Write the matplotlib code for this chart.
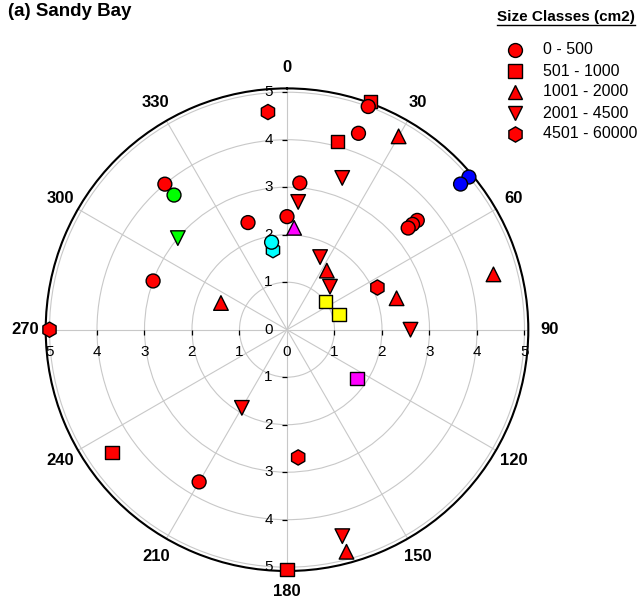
import numpy as np
import matplotlib
matplotlib.use('Agg')
import matplotlib.pyplot as plt
from matplotlib.lines import Line2D
from matplotlib.transforms import offset_copy

plt.rcParams['font.family'] = ['Liberation Sans', 'DejaVu Sans']

# ---------------- data ----------------
title = '(a) Sandy Bay'
legend_title = 'Size Classes (cm2)'
size_classes = ['0 - 500', '501 - 1000', '1001 - 2000', '2001 - 4500', '4501 - 60000']
angle_ticks = [0, 30, 60, 90, 120, 150, 180, 210, 240, 270, 300, 330]
radial_ticks = [1, 2, 3, 4, 5]
r_max = 5.08

# 0 - 500 (circles)
circle_deg = [20, 20, 5, 0, 340, 320, 320, 290, 50, 50, 50, 210, 50, 50, 350]
circle_r = [5.0, 4.4, 3.1, 2.38, 2.4, 4.0, 3.7, 3.0, 3.58, 3.45, 3.33, 3.7, 5.0, 4.77, 1.87]
circle_col = ['red', 'red', 'red', 'red', 'red', 'red', 'lime', 'red', 'red', 'red', 'red', 'red',
              'blue', 'blue', 'cyan']

# 501 - 1000 (squares)
square_deg = [20, 15, 180, 235, 54, 74, 125]
square_r = [5.12, 4.1, 5.05, 4.5, 1.0, 1.14, 1.8]
square_col = ['red', 'red', 'red', 'red', 'yellow', 'yellow', 'magenta']

# 1001 - 2000 (triangles up)
tri_up_deg = [30, 34, 74, 75, 292, 165, 4]
tri_up_r = [4.7, 1.5, 2.4, 4.5, 1.5, 4.84, 2.15]
tri_up_col = ['red', 'red', 'red', 'red', 'red', 'red', 'magenta']

# 2001 - 4500 (triangles down)
tri_dn_deg = [20, 5, 24.5, 45, 90, 210, 165, 310]
tri_dn_r = [3.4, 2.7, 1.68, 1.28, 2.6, 1.9, 4.5, 3.0]
tri_dn_col = ['red', 'red', 'red', 'red', 'red', 'red', 'red', 'lime']

# 4501 - 60000 (hexagons)
hex_deg = [355, 65, 175, 270, 350]
hex_r = [4.6, 2.1, 2.7, 5.0, 1.7]
hex_col = ['red', 'red', 'red', 'red', 'cyan']

# ---------------- figure ----------------
fig = plt.figure(figsize=(6.42, 6.08), dpi=100)
cx, cy = 287.0, 329.7           # centre in pixels (from top-left)
rad_px = r_max * 47.5
ax = fig.add_axes([(cx - rad_px) / 642, (608 - cy - rad_px) / 608,
                   2 * rad_px / 642, 2 * rad_px / 608], projection='polar')
ax.set_theta_zero_location('N')
ax.set_theta_direction(-1)
ax.set_ylim(0, r_max)
ax.set_rgrids(radial_ticks, labels=[''] * len(radial_ticks))
ax.set_thetagrids(angle_ticks, labels=[str(a) for a in angle_ticks])
ax.grid(True, color='#c8c8c8', linewidth=0.8)
ax.spines['polar'].set_linewidth(1.5)
ax.spines['polar'].set_color('black')
ax.tick_params(axis='x', direction='out', length=4.5, width=0.9, color='black',
               labelsize=12, pad=3.5)
for lbl in ax.get_xticklabels():
    lbl.set_fontweight('bold')
ax.tick_params(axis='y', length=0)

# radial labels and dashes
tr_v = offset_copy(ax.transData, fig=fig, x=-18.5, y=0, units='dots')
tr_h = offset_copy(ax.transData, fig=fig, x=0, y=-22, units='dots')
ax.text(0, 0, '0', transform=tr_v, ha='center', va='center', fontsize=11)
ax.text(0, 0, '0', transform=tr_h, ha='center', va='center', fontsize=11)
for th in (0, np.pi):
    for r in radial_ticks:
        ax.text(th, r, str(r), transform=tr_v, ha='center', va='center', fontsize=11)
    ax.plot([th] * len(radial_ticks), radial_ticks, ls='none', marker=0, ms=3.8,
            mew=0.9, color='black', clip_on=False, zorder=2)
for th in (np.pi / 2, 3 * np.pi / 2):
    for r in radial_ticks:
        ax.text(th, r, str(r), transform=tr_h, ha='center', va='center', fontsize=11)
    ax.plot([th] * len(radial_ticks), radial_ticks, ls='none', marker=3, ms=3.8,
            mew=0.9, color='black', clip_on=False, zorder=2)

# data markers
marker_of = ['o', 's', '^', 'v', 'h']
ms_of = [10, 9.6, 10.5, 10.5, 11]
series = [
    (square_deg, square_r, square_col, 1, 3),
    (hex_deg, hex_r, hex_col, 4, 3),
    (circle_deg, circle_r, circle_col, 0, 4),
    (tri_up_deg, tri_up_r, tri_up_col, 2, 5),
    (tri_dn_deg, tri_dn_r, tri_dn_col, 3, 5),
]
for deg, rr, col, k, z in series:
    ax.scatter(np.deg2rad(deg), rr, s=ms_of[k] ** 2, c=col, marker=marker_of[k],
               edgecolors='black', linewidths=1.0, clip_on=False, zorder=z)

# title
fig.text(8 / 642, 1 - 11 / 608, title, fontsize=13.5, fontweight='bold', ha='left', va='center')

# legend
lt = fig.text(497 / 642, 1 - 17 / 608, legend_title, fontsize=11, fontweight='bold',
              ha='left', va='center')
fig.canvas.draw()
bb = lt.get_window_extent()
uy = (bb.y0 - 1) / 608
fig.add_artist(Line2D([bb.x0 / 642, bb.x1 / 642], [uy, uy], transform=fig.transFigure,
                      color='black', lw=1.0))
row_y = [50, 71, 92, 113, 134]
for i, lab in enumerate(size_classes):
    y = 1 - row_y[i] / 608
    fig.add_artist(Line2D([515 / 642], [y], transform=fig.transFigure, marker=marker_of[i],
                          ms=ms_of[i], color='red', mec='black', mew=1.0, ls='none'))
    fig.text(543 / 642, y, lab, fontsize=11.5, ha='left', va='center')

fig.savefig('out.png', dpi=100)
